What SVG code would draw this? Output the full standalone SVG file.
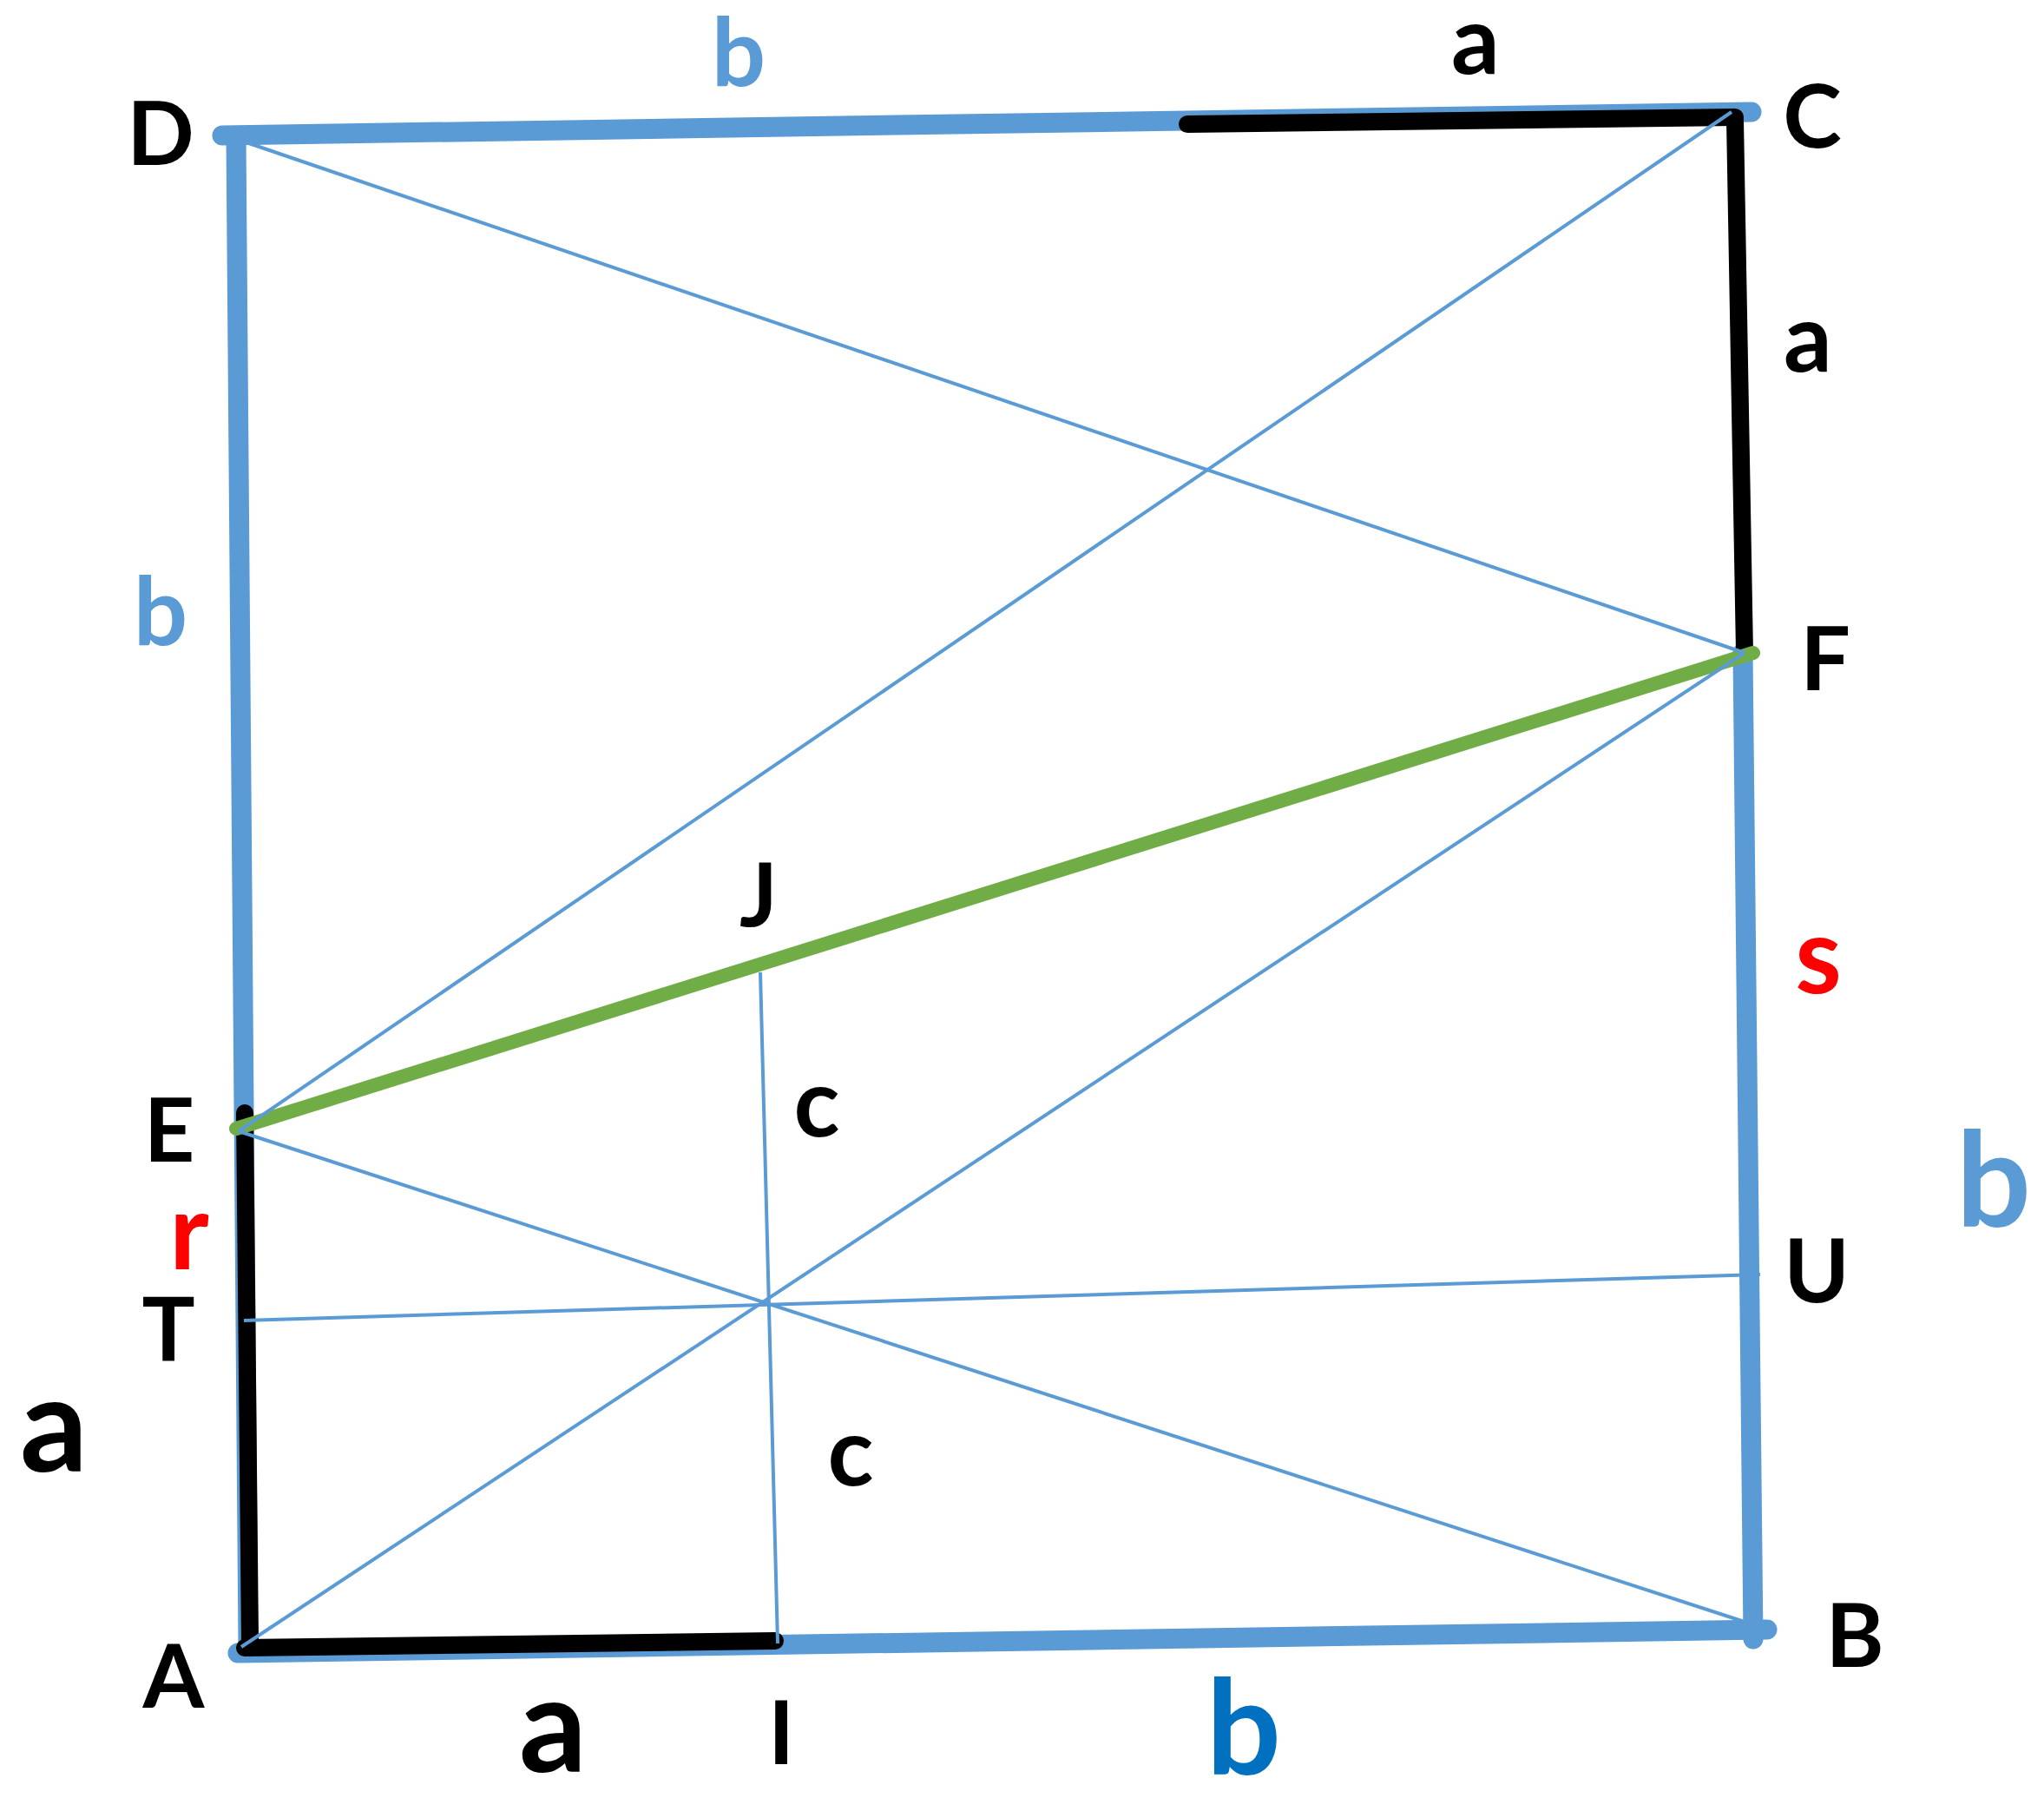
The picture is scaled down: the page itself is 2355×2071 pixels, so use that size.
<svg xmlns="http://www.w3.org/2000/svg" width="2355" height="2071" viewBox="0 0 2355 2071">
<style>
.thick{stroke:#5B9BD5;stroke-width:23;stroke-linecap:round;fill:none}
.blk{stroke:#000;stroke-width:20;stroke-linecap:round;fill:none}
.grn{stroke:#70AD47;stroke-width:16;stroke-linecap:round;fill:none}
.thin{stroke:#5B9BD5;stroke-width:4;fill:none}
text{font-family:Lato,"Open Sans","Liberation Sans",sans-serif;font-weight:bold;text-anchor:middle}
.cap{font-size:102px;fill:#000}
.lc{font-size:110px;fill:#000}
.lcb{font-size:110px;fill:#5B9BD5}
.red{font-size:122px;fill:#FF0000}
.big{font-size:154px;fill:#000}
.bigb{font-size:152px;fill:#5B9BD5}
.bigd{font-size:152px;fill:#0070C0}
</style>
<rect width="2355" height="2071" fill="#fff"/>
<g id="connectors">
<line class="thick" x1="256" y1="156" x2="2018" y2="129"/>
<line class="thick" x1="272" y1="158" x2="286" y2="1900"/>
<line class="thick" x1="2008" y1="752" x2="2020" y2="1888"/>
<line class="thick" x1="274" y1="1904" x2="2036" y2="1877"/>
<line class="blk" x1="1368" y1="143" x2="1999" y2="135"/>
<line class="blk" x1="1999" y1="138" x2="2010" y2="752"/>
<line class="blk" x1="282" y1="1282" x2="288" y2="1893"/>
<line class="blk" x1="282" y1="1898" x2="893" y2="1890"/>
<line class="grn" x1="272" y1="1300" x2="2020" y2="752"/>
<line class="thin" x1="272" y1="160" x2="2010" y2="752"/>
<line class="thin" x1="1995" y1="129" x2="275" y2="1303"/>
<line class="thin" x1="275" y1="1303" x2="2016" y2="1870"/>
<line class="thin" x1="278" y1="1897" x2="2010" y2="752"/>
<line class="thin" x1="281" y1="1521" x2="2028" y2="1468"/>
<line class="thin" x1="876" y1="1120" x2="896" y2="1893"/>
</g>
<g id="node-D"><text class="cap" x="185" y="190">D</text></g>
<g id="node-C"><text class="cap" x="2088" y="170">C</text></g>
<g id="node-F"><text class="cap" x="2103" y="795">F</text></g>
<g id="node-J"><text class="cap" x="874" y="1067">J</text></g>
<g id="node-E"><text class="cap" x="195" y="1338">E</text></g>
<g id="node-T"><text class="cap" x="194" y="1567">T</text></g>
<g id="node-A"><text class="cap" x="200" y="1967">A</text></g>
<g id="node-I"><text class="cap" x="900" y="2032">I</text></g>
<g id="node-U"><text class="cap" x="2093" y="1500">U</text></g>
<g id="node-B"><text class="cap" x="2137" y="1920">B</text></g>
<g id="labels">
<text class="lcb" x="851" y="99">b</text>
<text class="lc" x="1700" y="85">a</text>
<text class="lc" x="2083" y="428">a</text>
<text class="lcb" x="185" y="743">b</text>
<text class="lc" x="941" y="1309">c</text>
<text class="lc" x="980" y="1711">c</text>
<text class="red" x="218" y="1462">r</text>
<text class="red" x="2095" y="1144">s</text>
<text class="big" x="62" y="1695">a</text>
<text class="big" x="637" y="2041">a</text>
<text class="bigb" x="2297" y="1413">b</text>
<text class="bigd" x="1433" y="2044">b</text>
</g>
</svg>
